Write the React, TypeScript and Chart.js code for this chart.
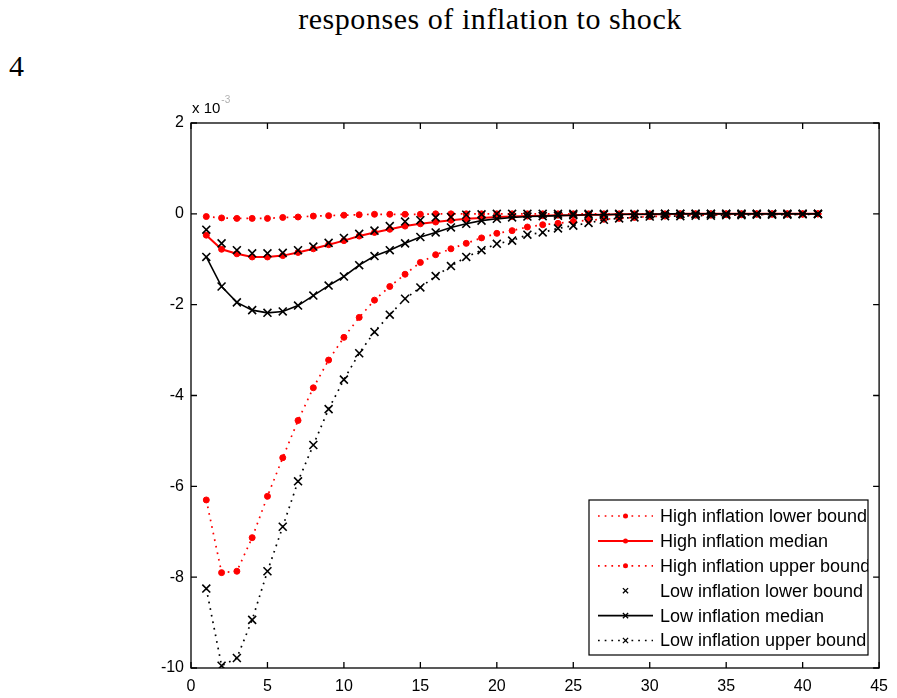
import React, { useEffect, useRef } from "react";
import { Chart, registerables } from "chart.js";

Chart.register(...registerables);

// horizon (periods after shock)
const horizon = [
  1, 2, 3, 4, 5, 6, 7, 8, 9, 10, 11, 12, 13, 14, 15, 16, 17, 18, 19, 20, 21,
  22, 23, 24, 25, 26, 27, 28, 29, 30, 31, 32, 33, 34, 35, 36, 37, 38, 39, 40, 41,
];

// all responses in units of 10^-3
const highLower = [
  -0.06, -0.09, -0.1, -0.1, -0.1, -0.08, -0.07, -0.05, -0.04, -0.03, -0.02,
  -0.01, -0.01, -0.01, -0.01, 0, 0, 0, 0, 0, 0, 0, 0, 0, 0, 0, 0, 0, 0, 0, 0,
  0, 0, 0, 0, 0, 0, 0, 0, 0, 0,
];
const highMedian = [
  -0.47, -0.78, -0.88, -0.95, -0.95, -0.92, -0.85, -0.77, -0.68, -0.59, -0.49,
  -0.41, -0.34, -0.27, -0.22, -0.18, -0.14, -0.11, -0.09, -0.07, -0.06, -0.05,
  -0.04, -0.03, -0.03, -0.02, -0.02, -0.01, -0.01, -0.01, -0.01, 0, 0, 0, 0, 0,
  0, 0, 0, 0, 0,
];
const highUpper = [
  -6.3, -7.9, -7.87, -7.13, -6.22, -5.37, -4.55, -3.83, -3.22, -2.72, -2.28,
  -1.9, -1.6, -1.33, -1.07, -0.9, -0.77, -0.65, -0.53, -0.43, -0.37, -0.29,
  -0.24, -0.21, -0.17, -0.14, -0.12, -0.1, -0.08, -0.06, -0.05, -0.04, -0.03,
  -0.03, -0.02, -0.02, -0.01, -0.01, -0.01, -0.01, 0,
];
const lowLower = [
  -0.35, -0.65, -0.8, -0.87, -0.87, -0.86, -0.8, -0.72, -0.64, -0.53, -0.44,
  -0.37, -0.27, -0.17, -0.14, -0.08, -0.07, -0.02, -0.01, 0, 0, 0, 0, 0, 0, 0,
  0, 0, 0, 0, 0, 0, 0, 0, 0, 0, 0, 0, 0, 0, 0,
];
const lowMedian = [
  -0.95, -1.6, -1.95, -2.12, -2.18, -2.15, -2.02, -1.8, -1.58, -1.38, -1.13,
  -0.93, -0.8, -0.65, -0.51, -0.41, -0.3, -0.22, -0.15, -0.11, -0.08, -0.06,
  -0.05, -0.04, -0.03, -0.02, -0.02, -0.01, -0.01, -0.01, 0, 0, 0, 0, 0, 0, 0,
  0, 0, 0, 0,
];
const lowUpper = [
  -8.25, -9.95, -9.78, -8.94, -7.87, -6.89, -5.89, -5.09, -4.3, -3.65, -3.07,
  -2.6, -2.22, -1.87, -1.62, -1.37, -1.15, -0.95, -0.8, -0.66, -0.59, -0.46,
  -0.41, -0.32, -0.26, -0.2, -0.13, -0.1, -0.08, -0.06, -0.05, -0.05, -0.04,
  -0.04, -0.03, -0.03, -0.02, -0.02, -0.02, -0.01, -0.01,
];

const seriesLabels = [
  "High inflation lower bound",
  "High inflation median",
  "High inflation upper bound",
  "Low inflation lower bound",
  "Low inflation median",
  "Low inflation upper bound",
];

const xTicks = [0, 5, 10, 15, 20, 25, 30, 35, 40, 45];
const yTicks = [-10, -8, -6, -4, -2, 0, 2];

const titleText = "responses of inflation to shock";
const pageNumber = "4";

const RED = "#ff0000";
const BLACK = "#000000";
const SANS = '"Liberation Sans", Arial, sans-serif';

const toPoints = (ys: number[]) => horizon.map((x, i) => ({ x, y: ys[i] }));

function drawMarker(
  ctx: CanvasRenderingContext2D,
  style: string,
  x: number,
  y: number,
  r: number,
  color: string,
  lw: number
) {
  ctx.save();
  ctx.setLineDash([]);
  ctx.strokeStyle = color;
  ctx.fillStyle = color;
  ctx.lineWidth = lw;
  if (style === "circle") {
    ctx.beginPath();
    ctx.arc(x, y, r, 0, Math.PI * 2);
    ctx.fill();
  } else {
    ctx.beginPath();
    ctx.moveTo(x - r, y - r);
    ctx.lineTo(x + r, y + r);
    ctx.moveTo(x - r, y + r);
    ctx.lineTo(x + r, y - r);
    ctx.stroke();
  }
  ctx.restore();
}

const framePlugin = {
  id: "matlabFrame",
  afterDraw(chart: any) {
    const { ctx, chartArea: a, scales } = chart;
    const xs = scales.x;
    const ys = scales.y;
    ctx.save();
    ctx.strokeStyle = "#000";
    ctx.lineWidth = 1.3;
    ctx.setLineDash([]);
    ctx.strokeRect(a.left, a.top, a.right - a.left, a.bottom - a.top);
    const tl = 6;
    ctx.beginPath();
    xTicks.forEach((v) => {
      const px = xs.getPixelForValue(v);
      ctx.moveTo(px, a.bottom);
      ctx.lineTo(px, a.bottom - tl);
      ctx.moveTo(px, a.top);
      ctx.lineTo(px, a.top + tl);
    });
    yTicks.forEach((v) => {
      const py = ys.getPixelForValue(v);
      ctx.moveTo(a.left, py);
      ctx.lineTo(a.left + tl, py);
      ctx.moveTo(a.right, py);
      ctx.lineTo(a.right - tl, py);
    });
    ctx.stroke();

    // exponent label
    ctx.fillStyle = "#000";
    ctx.font = `15px ${SANS}`;
    ctx.textBaseline = "alphabetic";
    ctx.textAlign = "left";
    ctx.fillText("x 10", a.left + 1, a.top - 10);
    const w = ctx.measureText("x 10").width;
    ctx.fillStyle = "#b0b0b0";
    ctx.font = `10px ${SANS}`;
    ctx.fillText("-3", a.left + 2 + w, a.top - 20);

    // legend
    const bx = a.left + 398;
    const by = a.top + 377;
    const bw = 279;
    const bh = 155;
    ctx.fillStyle = "#fff";
    ctx.fillRect(bx, by, bw, bh);
    ctx.strokeStyle = "#000";
    ctx.lineWidth = 1.2;
    ctx.strokeRect(bx, by, bw, bh);
    ctx.beginPath();
    ctx.rect(bx, by, bw, bh);
    ctx.clip();
    chart.data.datasets.forEach((ds: any, i: number) => {
      const cy = by + 16 + i * 24.9;
      const x0 = bx + 9;
      const x1 = bx + 64;
      if (ds.showLine !== false) {
        ctx.save();
        ctx.strokeStyle = ds.borderColor;
        ctx.lineWidth = ds.borderWidth;
        ctx.setLineDash(ds.borderDash || []);
        ctx.beginPath();
        ctx.moveTo(x0, cy);
        ctx.lineTo(x1, cy);
        ctx.stroke();
        ctx.restore();
      }
      const mx = (x0 + x1) / 2;
      drawMarker(
        ctx,
        ds.pointStyle,
        mx,
        cy,
        ds.pointStyle === "circle" ? 2.5 : 2.6,
        ds.pointBorderColor || ds.borderColor,
        1.3
      );
      ctx.fillStyle = "#000";
      ctx.font = `18px ${SANS}`;
      ctx.textBaseline = "middle";
      ctx.textAlign = "left";
      ctx.fillText(ds.label, bx + 71, cy + 1);
    });
    ctx.restore();
  },
};

function makeDataset(
  label: string,
  ys: number[],
  color: string,
  kind: "dotted" | "solid" | "none",
  marker: "circle" | "crossRot",
  order: number
) {
  const isCircle = marker === "circle";
  return {
    label,
    data: toPoints(ys),
    borderColor: color,
    backgroundColor: color,
    pointBorderColor: color,
    pointBackgroundColor: color,
    borderWidth: kind === "solid" ? (isCircle ? 2 : 1.6) : 1.7,
    borderDash: kind === "dotted" ? [1.7, 5] : [],
    showLine: kind !== "none",
    pointStyle: marker,
    pointRadius: isCircle ? 3 : 5.6,
    pointBorderWidth: isCircle ? 1 : 1.6,
    tension: 0,
    order,
  };
}

export default function App() {
  const ref = useRef<HTMLCanvasElement | null>(null);

  useEffect(() => {
    if (!ref.current) return;
    const chart = new Chart(ref.current, {
      type: "line",
      data: {
        datasets: [
          makeDataset(seriesLabels[0], highLower, RED, "dotted", "circle", 1),
          makeDataset(seriesLabels[1], highMedian, RED, "solid", "circle", 1),
          makeDataset(seriesLabels[2], highUpper, RED, "dotted", "circle", 1),
          makeDataset(seriesLabels[3], lowLower, BLACK, "none", "crossRot", 0),
          makeDataset(seriesLabels[4], lowMedian, BLACK, "solid", "crossRot", 0),
          makeDataset(seriesLabels[5], lowUpper, BLACK, "dotted", "crossRot", 0),
        ] as any,
      },
      options: {
        animation: false,
        responsive: true,
        maintainAspectRatio: false,
        layout: { padding: { top: 123, right: 12, bottom: 0, left: 0 } },
        plugins: {
          legend: { display: false },
          tooltip: { enabled: false },
          title: { display: false },
        },
        scales: {
          x: {
            type: "linear",
            min: 0,
            max: 45,
            grid: { display: false, drawTicks: false },
            border: { display: false },
            afterBuildTicks: (scale: any) => {
              scale.ticks = xTicks.map((v) => ({ value: v }));
            },
            afterFit: (scale: any) => {
              scale.height = 30;
            },
            ticks: {
              padding: 9,
              maxRotation: 0,
              autoSkip: false,
              color: "#000",
              font: { family: SANS, size: 16 },
            },
          },
          y: {
            type: "linear",
            min: -10,
            max: 2,
            grid: { display: false, drawTicks: false },
            border: { display: false },
            afterBuildTicks: (scale: any) => {
              scale.ticks = yTicks.map((v) => ({ value: v }));
            },
            afterFit: (scale: any) => {
              scale.width = 191;
            },
            ticks: {
              padding: 7,
              autoSkip: false,
              color: "#000",
              font: { family: SANS, size: 16 },
            },
          },
        },
      } as any,
      plugins: [framePlugin],
    });
    return () => chart.destroy();
  }, []);

  return (
    <div
      style={{
        position: "fixed",
        left: 0,
        top: 0,
        width: 897,
        height: 698,
        background: "#fff",
      }}
    >
      <div
        style={{
          position: "absolute",
          left: 490,
          top: 4,
          transform: "translateX(-50%)",
          whiteSpace: "nowrap",
          fontFamily: '"Liberation Serif", "DejaVu Serif", serif',
          fontSize: 30,
          lineHeight: "30px",
          letterSpacing: "0.55px",
          color: "#000",
        }}
      >
        {titleText}
      </div>
      <div
        style={{
          position: "absolute",
          left: 9,
          top: 51,
          fontFamily: '"Liberation Serif", "DejaVu Serif", serif',
          fontSize: 30,
          lineHeight: "30px",
          color: "#000",
        }}
      >
        {pageNumber}
      </div>
      <div style={{ position: "absolute", left: 0, top: 0, width: 897, height: 698 }}>
        <canvas ref={ref} />
      </div>
    </div>
  );
}
